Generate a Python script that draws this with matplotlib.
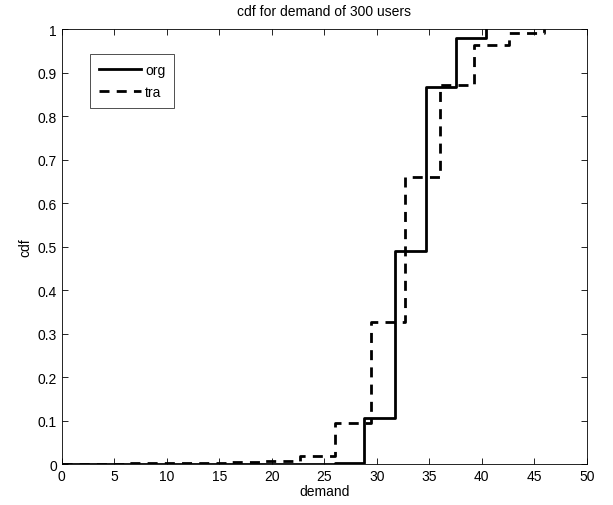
import matplotlib
matplotlib.use("Agg")
import matplotlib.pyplot as plt

org_x = [0, 26.0, 28.8, 31.75, 34.67, 37.52, 40.38]
org_y = [0, 0.003, 0.107, 0.49, 0.867, 0.981, 1.0]

tra_x = [0, 6.2, 9.5, 12.8, 16.1, 19.4, 22.7, 26.0, 29.43, 32.73, 36.03, 39.24, 42.63, 45.9]
tra_y = [0, 0.002, 0.003, 0.003, 0.004, 0.008, 0.019, 0.094, 0.326, 0.66, 0.872, 0.964, 0.991, 1.0]

xticks = [0, 5, 10, 15, 20, 25, 30, 35, 40, 45, 50]
yticks = [0, 0.1, 0.2, 0.3, 0.4, 0.5, 0.6, 0.7, 0.8, 0.9, 1]

plt.rcParams['font.family'] = ['Liberation Sans', 'DejaVu Sans']
fig = plt.figure(figsize=(6.13, 5.06), dpi=100)
ax = fig.add_axes([0.1007, 0.081, 0.8564, 0.859])

ax.step(org_x, org_y, where='post', color='black', lw=2.0, label='org')
ax.step(tra_x, tra_y, where='post', color='black', lw=2.0,
        linestyle=(0, (3.6, 2.6)), label='tra')

ax.set_xlim(0, 50)
ax.set_ylim(0, 1)
ax.set_xticks(xticks)
ax.set_yticks(yticks)
ax.set_xticklabels([str(t) for t in xticks])
ax.set_yticklabels(['0', '0.1', '0.2', '0.3', '0.4', '0.5', '0.6', '0.7', '0.8', '0.9', '1'])
ax.tick_params(direction='in', top=True, right=True, length=4, labelsize=10, width=0.6)
for s in ax.spines.values():
    s.set_linewidth(0.6)

ax.set_title('cdf for demand of 300 users', fontsize=10, pad=10)
ax.set_xlabel('demand', fontsize=10, labelpad=1)
ax.set_ylabel('cdf', fontsize=10, labelpad=4)

leg = ax.legend(loc='upper left', bbox_to_anchor=(0.054, 0.944), fontsize=10,
                frameon=True, fancybox=False, edgecolor='black', handlelength=3.0,
                borderpad=0.65, labelspacing=0.6, handletextpad=0.3, borderaxespad=0)
leg.get_frame().set_linewidth(0.6)

fig.savefig('out.png', dpi=100)
